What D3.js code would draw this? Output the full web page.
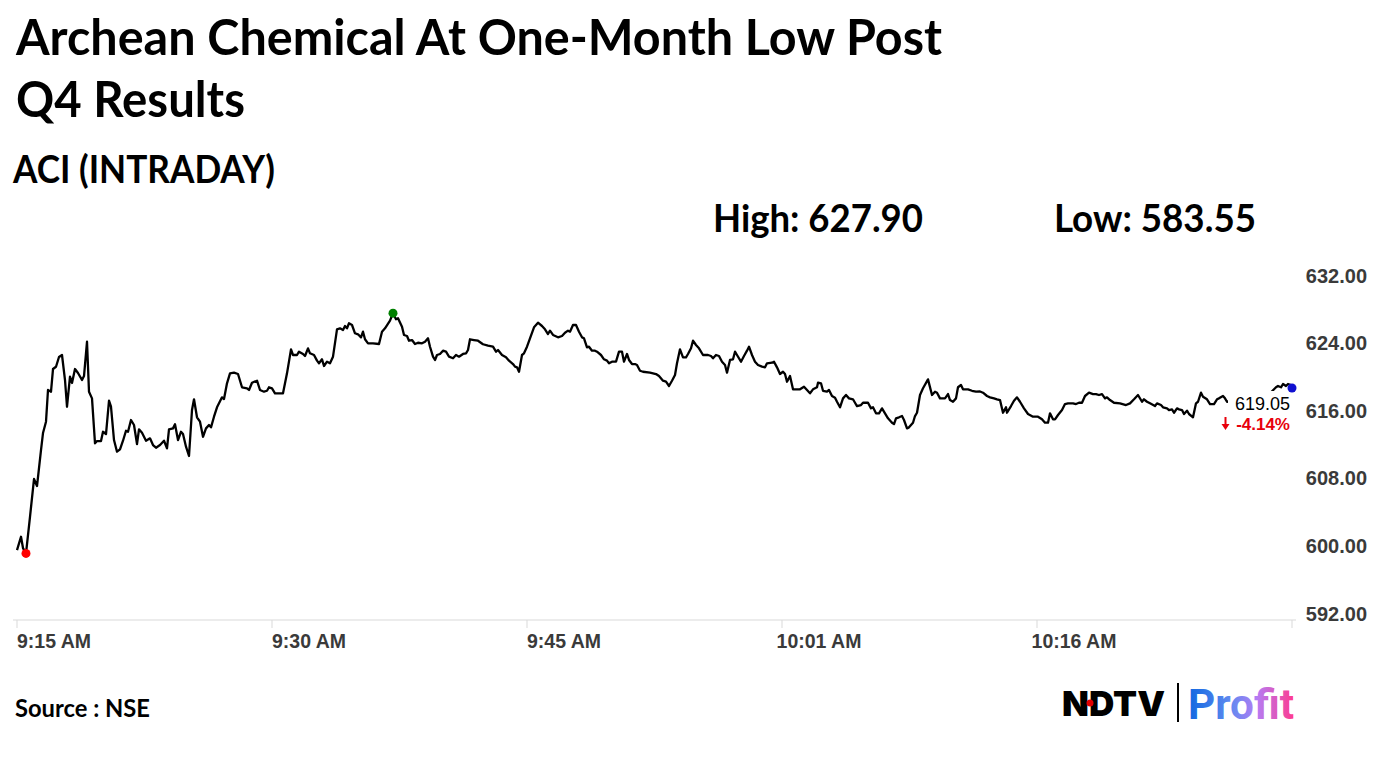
<!DOCTYPE html>
<html><head><meta charset="utf-8">
<script src="https://cdn.jsdelivr.net/npm/d3@7"></script>
<style>body{margin:0;background:#fff;} svg{display:block;}</style>
</head><body>
<svg id="c" width="1382" height="777"></svg>
<script>
// ---- data (sample position in the session, price) ----
const sampleIdx = [0,4,6,9,13,17,20,24,26,29,31,34,36,39,42,45,48,50,53,55,58,61,65,67,70,72,75,78,80,84,86,89,92,94,97,100,103,106,109,111,114,117,120,122,125,129,133,136,139,143,147,150,152,156,158,161,164,166,169,172,175,177,180,183,186,189,192,194,197,200,205,207,210,213,217,221,225,230,232,235,240,243,247,250,252,255,258,266,270,274,276,280,282,286,288,291,293,297,300,302,305,307,310,313,316,320,323,326,328,330,332,335,338,341,344,346,348,351,356,362,365,368,373,376,379,381,385,387,390,392,395,398,401,405,408,411,413,416,418,420,423,426,429,432,436,439,442,446,449,451,453,457,461,466,471,476,479,481,485,489,492,496,498,500,502,505,507,510,513,517,521,525,528,531,533,536,541,545,548,551,553,556,559,562,565,567,570,572,575,578,580,584,587,590,592,595,599,602,605,607,610,612,615,618,620,623,626,633,639,642,646,649,652,655,658,660,663,666,669,671,674,676,679,682,686,691,694,696,699,702,705,708,710,713,716,718,720,724,727,730,732,735,738,741,745,748,750,755,757,760,763,766,768,770,773,776,780,783,787,790,793,796,800,801,804,806,810,812,815,818,820,823,826,829,832,836,838,840,844,846,851,854,856,859,862,865,868,871,875,877,879,882,885,887,890,892,896,898,900,903,906,911,915,918,920,923,928,931,933,936,939,941,944,946,951,955,959,963,966,970,973,977,980,983,986,989,990,994,997,1000,1003,1007,1011,1016,1021,1025,1028,1031,1033,1036,1038,1041,1045,1048,1051,1056,1059,1062,1065,1068,1072,1076,1079,1082,1085,1088,1090,1093,1097,1103,1109,1113,1117,1121,1125,1127,1130,1133,1138,1140,1144,1146,1150,1152,1155,1157,1160,1162,1165,1167,1170,1172,1176,1179,1181,1184,1186,1190,1193,1197,1200,1202,1206,1208,1210,1222,1236,1252,1259,1261,1264,1266,1269,1271,1274,1275];
const prices = [599.87,601.45,600.11,599.48,603.81,608.28,607.45,611.71,613.72,615.06,618.81,618.61,621.29,621.56,622.71,622.95,619.99,616.83,620.38,619.64,621.29,620.82,619.99,620.46,624.52,618.61,617.82,612.50,612.77,612.77,613.87,613.60,617.54,616.83,612.89,611.51,611.79,612.81,613.99,613.87,615.26,614.67,612.42,614.16,613.75,612.81,613.09,612.30,611.98,612.30,612.81,611.91,614.16,614.27,614.75,612.89,613.87,613.60,612.10,611.00,616.44,617.71,615.58,615.06,613.28,614.27,614.67,614.39,615.65,616.76,617.94,617.74,619.60,620.78,620.86,620.70,619.13,619.01,618.81,619.67,619.91,618.81,618.61,618.72,619.13,619.01,618.42,618.42,620.78,623.62,622.95,622.95,623.34,623.07,622.83,623.74,623.15,622.95,622.28,621.97,622.44,621.65,622.16,621.97,622.75,625.99,626.11,625.91,626.38,626.11,626.70,626.50,625.52,625.40,625.04,625.71,624.81,624.33,624.33,624.25,625.71,626.11,627.01,627.90,627.17,627.29,626.30,625.32,625.20,624.64,624.72,624.25,624.40,624.33,624.52,624.93,623.93,622.75,622.36,622.95,623.07,623.46,623.34,622.75,622.56,622.95,622.75,623.07,623.15,623.54,624.81,624.72,624.64,624.22,624.05,623.93,623.34,623.54,622.95,622.68,622.28,621.88,621.57,621.49,620.97,622.95,623.15,623.93,624.93,626.23,626.77,626.38,625.99,625.43,625.83,625.32,625.04,625.20,625.59,625.83,625.71,626.50,626.50,625.71,625.04,624.93,623.86,623.93,623.46,623.46,623.34,622.95,622.44,622.28,621.97,622.16,622.16,623.34,623.34,622.16,623.07,622.36,621.88,621.88,621.77,621.09,620.97,620.86,620.70,620.46,619.91,619.79,619.28,619.91,620.58,621.97,623.62,622.68,622.68,623.07,623.74,624.64,624.13,623.74,622.95,622.95,622.83,622.56,622.95,622.83,622.16,621.77,620.86,622.36,622.44,623.34,622.95,622.16,622.83,623.46,623.93,622.95,622.16,621.77,621.57,621.49,621.97,622.04,622.16,621.49,620.70,620.97,620.70,619.79,620.46,618.89,618.89,618.89,619.20,618.81,618.42,618.89,619.13,619.67,619.60,618.72,618.61,618.81,618.10,617.90,617.42,616.76,617.82,618.22,617.82,617.71,617.30,616.91,617.03,617.30,617.30,616.64,616.76,616.05,616.05,616.64,616.05,615.46,614.94,614.78,615.46,615.58,615.73,615.26,614.27,614.39,614.94,615.73,616.12,618.22,619.01,620.07,618.22,618.61,618.49,617.82,617.82,618.33,617.62,617.42,617.82,619.13,619.40,618.89,618.89,618.72,618.61,618.63,618.49,618.10,617.94,617.82,617.71,617.62,616.12,616.76,616.12,616.91,617.54,617.94,617.42,616.64,615.97,615.65,615.65,615.34,614.94,614.94,616.05,615.34,615.34,615.85,616.44,617.15,617.23,617.23,617.15,617.30,617.30,618.10,618.49,618.33,618.33,618.22,618.33,617.82,617.94,617.62,617.30,617.23,617.03,617.23,617.71,618.22,617.42,617.71,617.42,617.23,616.91,617.23,617.03,616.76,616.64,616.44,616.52,616.12,616.64,616.52,616.44,615.97,616.36,615.97,615.58,617.23,617.42,618.49,618.02,617.71,617.15,617.15,617.71,617.82,618.10,617.82,617.42,617.60,617.90,618.30,619.13,619.28,619.13,619.52,619.28,619.52,619.40,619.05];

const xTickIdx = [0,255,510,765,1020,1275];
const xTickLabels = ["9:15 AM","9:30 AM","9:45 AM","10:01 AM","10:16 AM",""];
const yTickValues = [592,600,608,616,624,632];
const titleLines = ["Archean Chemical At One-Month Low Post","Q4 Results"];
const subtitle = "ACI (INTRADAY)";
const dayHigh = "627.90";
const dayLow = "583.55";
const lastPrice = "619.05";
const changePct = "-4.14%";
const sourceText = "Source : NSE";

// ---- drawing ----
const svg = d3.select("#c");
svg.append("rect").attr("width",1382).attr("height",777).attr("fill","#fff");

const x = d3.scaleLinear().domain([0,1275]).range([17,1292]);
const y = d3.scaleLinear().domain([591.6,632]).range([620,278.5]);

const fit = (sel,w)=>sel.attr("textLength",w).attr("lengthAdjust","spacingAndGlyphs");
const headFont = "Lato, 'Open Sans', sans-serif";

fit(svg.append("text").attr("x",16).attr("y",55).attr("font-family",headFont).attr("font-weight",700)
  .attr("font-size",50).attr("fill","#000").text(titleLines[0]),926);
fit(svg.append("text").attr("x",16).attr("y",117).attr("font-family",headFont).attr("font-weight",700)
  .attr("font-size",50).attr("fill","#000").text(titleLines[1]),229);
fit(svg.append("text").attr("x",13).attr("y",183).attr("font-family",headFont).attr("font-weight",700)
  .attr("font-size",38).attr("fill","#000").text(subtitle),262);
fit(svg.append("text").attr("x",713).attr("y",232).attr("font-family",headFont).attr("font-weight",700)
  .attr("font-size",38).attr("fill","#000").text("High: "+dayHigh),210);
fit(svg.append("text").attr("x",1054).attr("y",232).attr("font-family",headFont).attr("font-weight",700)
  .attr("font-size",38).attr("fill","#000").text("Low: "+dayLow),202);
fit(svg.append("text").attr("x",15).attr("y",717).attr("font-family",headFont).attr("font-weight",700)
  .attr("font-size",25).attr("fill","#000").text(sourceText),135);

// axis baseline + ticks
const axisG = svg.append("g");
axisG.append("line").attr("x1",13).attr("x2",1296).attr("y1",620).attr("y2",620)
  .attr("stroke","#d9d9d9").attr("stroke-width",1);
axisG.selectAll("line.tk").data(xTickIdx).join("line").attr("class","tk")
  .attr("x1",d=>x(d)).attr("x2",d=>x(d)).attr("y1",620).attr("y2",628)
  .attr("stroke","#d9d9d9").attr("stroke-width",1);
axisG.selectAll("text.xl").data(xTickIdx).join("text").attr("class","xl")
  .attr("x",d=>x(d)+37).attr("y",648).attr("text-anchor","middle")
  .attr("font-family","'Liberation Sans', Arial, sans-serif").attr("font-weight",700)
  .attr("font-size",19.5).attr("fill","#3a3a3a").text((d,i)=>xTickLabels[i]);

// y labels
svg.selectAll("text.yl").data(yTickValues).join("text").attr("class","yl")
  .attr("x",1367).attr("y",d=>y(d)+4).attr("text-anchor","end")
  .attr("font-family","'Liberation Sans', Arial, sans-serif").attr("font-weight",700)
  .attr("font-size",20).attr("fill","#3a3a3a").text(d=>d.toFixed(2));

// line
const pts = sampleIdx.map((t,i)=>({t,v:prices[i]}));
svg.append("path").datum(pts)
  .attr("d",d3.line().x(d=>x(d.t)).y(d=>y(d.v)))
  .attr("fill","none").attr("stroke","#000").attr("stroke-width",2.3).attr("stroke-linejoin","round");

// end label with white background
svg.append("rect").attr("x",1228).attr("y",391).attr("width",64).attr("height",45).attr("fill","#fff");
svg.append("text").attr("x",1290).attr("y",410).attr("text-anchor","end")
  .attr("font-family","'Liberation Sans', Arial, sans-serif").attr("font-size",18).attr("fill","#000").text(lastPrice);
svg.append("text").attr("x",1290).attr("y",430).attr("text-anchor","end")
  .attr("font-family","'Liberation Sans', Arial, sans-serif").attr("font-weight",700).attr("font-size",17).attr("fill","#e8000b")
  .text(changePct);
// small down arrow before the change
svg.append("path").attr("d","M1224.5,417 v7 h-3 l4,6 l4,-6 h-3 v-7 z").attr("fill","#e8000b");

// markers
const iMax = d3.maxIndex(prices), iMin = d3.minIndex(prices), iLast = prices.length-1;
svg.append("circle").attr("cx",x(sampleIdx[iMin])).attr("cy",y(prices[iMin])).attr("r",4.5).attr("fill","#ff0000");
svg.append("circle").attr("cx",x(sampleIdx[iMax])).attr("cy",y(prices[iMax])).attr("r",4.5).attr("fill","#008000");
svg.append("circle").attr("cx",x(sampleIdx[iLast])).attr("cy",y(prices[iLast])).attr("r",4.5).attr("fill","#1010d0");

// logo
const defs = svg.append("defs");
const g = defs.append("linearGradient").attr("id","pg").attr("x1","0%").attr("x2","100%");
g.append("stop").attr("offset","0%").attr("stop-color","#1168e0");
g.append("stop").attr("offset","40%").attr("stop-color","#5f8af0");
g.append("stop").attr("offset","65%").attr("stop-color","#b57cf4");
g.append("stop").attr("offset","100%").attr("stop-color","#ff3a8e");
fit(svg.append("text").attr("x",1062).attr("y",716).attr("font-family","Inter, 'Liberation Sans', sans-serif")
  .attr("font-weight",900).attr("font-size",34).attr("fill","#000").text("NDTV"),103);
svg.append("circle").attr("cx",1090).attr("cy",703).attr("r",3.5).attr("fill","#e00000");
svg.append("line").attr("x1",1178).attr("x2",1178).attr("y1",683).attr("y2",722).attr("stroke","#000").attr("stroke-width",2);
fit(svg.append("text").attr("x",1188).attr("y",719).attr("font-family","Roboto, 'Liberation Sans', sans-serif")
  .attr("font-weight",700).attr("font-size",42).attr("fill","url(#pg)").text("Profit"),106);
</script>
</body></html>
